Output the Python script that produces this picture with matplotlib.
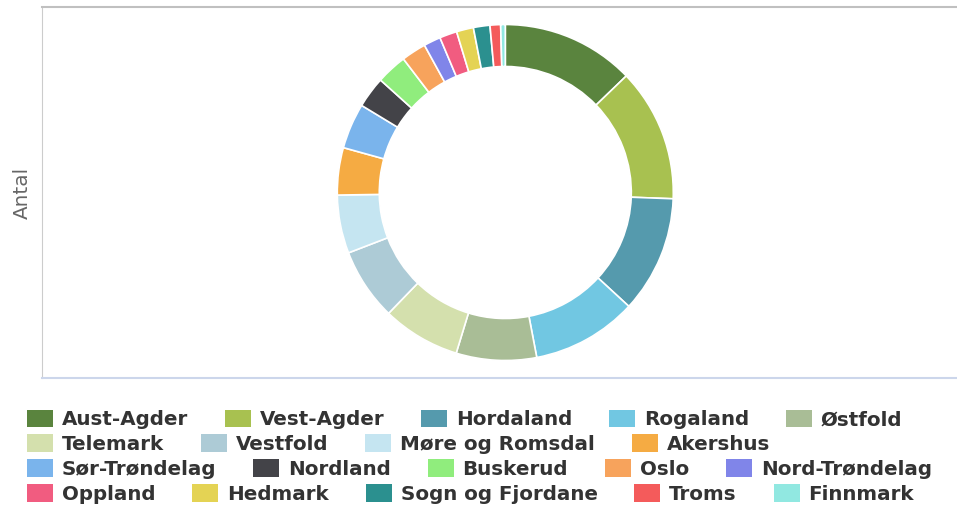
import matplotlib
matplotlib.use("Agg")
import matplotlib.pyplot as plt
from matplotlib.patches import Patch

# Data: counts per county (read from the donut)
fylker = ["Aust-Agder", "Vest-Agder", "Hordaland", "Rogaland", "Østfold",
          "Telemark", "Vestfold", "Møre og Romsdal", "Akershus",
          "Sør-Trøndelag", "Nordland", "Buskerud", "Oslo", "Nord-Trøndelag",
          "Oppland", "Hedmark", "Sogn og Fjordane", "Troms", "Finnmark"]
antal = [29, 29, 25.5, 23, 17.5, 17, 15.7, 12.7, 10.3, 9.9, 6.8, 6.7,
         5.4, 3.7, 3.8, 3.7, 3.6, 2.3, 1.0]
farger = ["#5a843e", "#a8c150", "#559aad", "#71c7e2", "#a9bd96",
          "#d4e0ad", "#adcbd6", "#c5e5f1", "#f5ab43", "#7ab4ec",
          "#434348", "#90ed7d", "#f7a35c", "#8085e9", "#f15c80",
          "#e4d354", "#2b908f", "#f45b5b", "#91e8e1"]
legend_rows = [5, 4, 5, 5]  # items per legend line

W, H = 957, 507
fig = plt.figure(figsize=(W / 100, H / 100), dpi=100)

# plot area in pixels: left 42, right 957, top 7, bottom 378
ax = fig.add_axes([42 / W, 1 - 378 / H, (W - 42) / W, 371 / H])
ax.pie(antal, colors=farger, startangle=90, counterclock=False,
       radius=168, center=(463.3, 185.5), frame=True,
       wedgeprops=dict(width=42, edgecolor="white", linewidth=1.2))
ax.set_xlim(0, W - 42)
ax.set_ylim(0, 371)
ax.set_aspect("auto")
ax.set_xticks([])
ax.set_yticks([])
ax.spines["right"].set_visible(False)
ax.spines["left"].set_color("#cccccc")
ax.spines["top"].set_color("#c0c0c0")
ax.spines["top"].set_linewidth(1.5)
ax.spines["bottom"].set_color("#ccd6eb")
ax.spines["bottom"].set_linewidth(1.5)
ax.set_ylabel("Antal", color="#666666", fontsize=14.4)
ax.yaxis.set_label_coords(-10.5 / 915, 0.5)

# legend, laid out line by line
fs = 14.3
rows_y = [419.5, 444, 469, 494]
i = 0
for n, y in zip(legend_rows, rows_y):
    handles = [Patch(facecolor=farger[k], edgecolor="none") for k in range(i, i + n)]
    fig.legend(handles, fylker[i:i + n], loc="center left",
               bbox_to_anchor=(27 / W, 1 - y / H), ncol=n, frameon=False,
               borderpad=0, borderaxespad=0, handlelength=1.31,
               handleheight=0.96, handletextpad=0.45, columnspacing=1.85,
               prop=dict(size=fs, weight="bold"), labelcolor="#333333")
    i += n

fig.savefig("out.png", dpi=100)
